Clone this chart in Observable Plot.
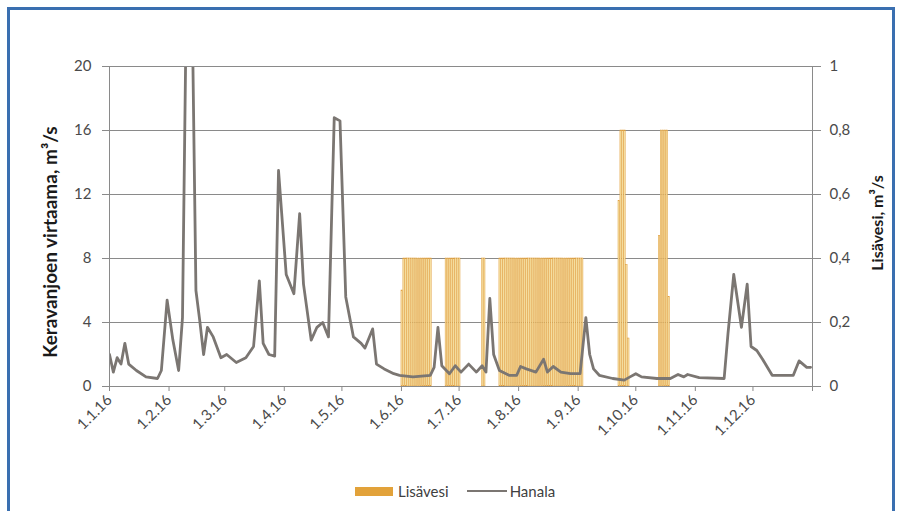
<!DOCTYPE html>
<html>
<head>
<meta charset="utf-8">
<script src="https://cdn.jsdelivr.net/npm/d3@7"></script>
<script src="https://cdn.jsdelivr.net/npm/@observablehq/plot@0.6"></script>
<style>
  body { margin: 0; background: #fff; width: 906px; height: 511px; overflow: hidden; position: relative; font-family: Lato, "Open Sans", sans-serif; }
  #border { position: absolute; left: 7px; top: 7px; width: 888px; height: 530px; border: 3px solid #3a6fb0; box-sizing: border-box; }
  #chart { position: absolute; left: 0; top: 0; }
  .ytitle { position: absolute; font-weight: bold; color: #1a1a1a; white-space: nowrap; transform: translate(-50%, -50%) rotate(-90deg); }
  #legend { position: absolute; top: 482px; left: 355px; font-size: 15px; color: #404040; display: flex; align-items: center; }
  .sw-bar { display: inline-block; width: 38px; height: 9px; background: #e2a23a; margin-right: 5px; }
  .sw-line { display: inline-block; width: 40px; height: 2.5px; background: #7b7672; margin: 0 3px 0 18px; }
</style>
</head>
<body>
<div id="border"></div>
<div id="chart"></div>
<div class="ytitle" style="left:49px; top:242px; font-size:19px;">Keravanjoen virtaama, m³/s</div>
<div class="ytitle" style="left:876px; top:223px; font-size:16px;">Lisävesi, m³/s</div>
<div id="legend"><span class="sw-bar"></span>Lisävesi<span class="sw-line"></span>Hanala</div>
<script>
// Hanala flow (left axis, m3/s)
const hanalaDates = [
  "2016-01-01","2016-01-03","2016-01-05","2016-01-07","2016-01-09","2016-01-11","2016-01-15","2016-01-20","2016-01-26","2016-01-28",
  "2016-01-31","2016-02-03","2016-02-06","2016-02-08","2016-02-10","2016-02-13","2016-02-15","2016-02-17","2016-02-19","2016-02-21",
  "2016-02-24","2016-02-28","2016-03-02","2016-03-07","2016-03-12","2016-03-16","2016-03-19","2016-03-21","2016-03-24","2016-03-27",
  "2016-03-29","2016-04-02","2016-04-06","2016-04-09","2016-04-11","2016-04-15","2016-04-18","2016-04-21","2016-04-24","2016-04-27",
  "2016-04-30","2016-05-03","2016-05-07","2016-05-11","2016-05-13","2016-05-17","2016-05-19","2016-05-23","2016-05-28","2016-05-31",
  "2016-06-07","2016-06-16","2016-06-18","2016-06-20","2016-06-22","2016-06-26","2016-06-29","2016-07-02","2016-07-06","2016-07-10",
  "2016-07-13","2016-07-15","2016-07-17","2016-07-19","2016-07-22","2016-07-27","2016-07-31","2016-08-02","2016-08-05","2016-08-10",
  "2016-08-14","2016-08-16","2016-08-19","2016-08-23","2016-08-28","2016-09-02","2016-09-05","2016-09-07","2016-09-09","2016-09-12",
  "2016-09-19","2016-09-25","2016-09-28","2016-10-01","2016-10-04","2016-10-12","2016-10-19","2016-10-23","2016-10-26","2016-10-28",
  "2016-11-03","2016-11-16","2016-11-18","2016-11-21","2016-11-25","2016-11-28","2016-11-30","2016-12-03","2016-12-06","2016-12-11",
  "2016-12-22","2016-12-25","2016-12-29","2016-12-31"
];
const hanalaValues = [
  2.0, 0.9, 1.8, 1.4, 2.7, 1.4, 1.0, 0.6, 0.5, 1.0,
  5.4, 2.9, 1.0, 4.3, 24, 24, 6.0, 4.1, 2.0, 3.7,
  3.1, 1.8, 2.0, 1.5, 1.8, 2.5, 6.6, 2.7, 2.0, 1.9,
  13.5, 7.0, 5.8, 10.8, 6.4, 2.9, 3.7, 4.0, 3.1, 16.8,
  16.6, 5.6, 3.1, 2.7, 2.4, 3.6, 1.4, 1.1, 0.8, 0.7,
  0.6, 0.7, 1.2, 3.7, 1.3, 0.8, 1.3, 0.9, 1.4, 0.9,
  1.3, 0.9, 5.5, 2.0, 1.0, 0.7, 0.7, 1.25, 1.1, 0.9,
  1.7, 0.9, 1.25, 0.9, 0.8, 0.8, 4.3, 2.0, 1.1, 0.7,
  0.5, 0.4, 0.6, 0.8, 0.6, 0.5, 0.5, 0.75, 0.6, 0.75,
  0.55, 0.5, 3.3, 7.0, 3.7, 6.4, 2.5, 2.25, 1.7, 0.7,
  0.7, 1.6, 1.2, 1.2
];

// Lisävesi (right axis, m3/s): periods with a constant daily value
const lisaRangeStart = ["2016-06-02", "2016-06-24", "2016-07-13", "2016-07-22"];
const lisaRangeEnd   = ["2016-06-16", "2016-07-01", "2016-07-14", "2016-09-03"];
const lisaRangeValue = [0.4, 0.4, 0.4, 0.4];
// single days
const lisaDays = ["2016-06-01","2016-09-22","2016-09-23","2016-09-24","2016-09-25","2016-09-26","2016-09-27",
                  "2016-10-13","2016-10-14","2016-10-15","2016-10-16","2016-10-17","2016-10-18"];
const lisaDayValues = [0.3, 0.58, 0.8, 0.8, 0.8, 0.38, 0.15,
                       0.47, 0.8, 0.8, 0.8, 0.8, 0.28];

const monthTicks = ["2016-01-01","2016-02-01","2016-03-01","2016-04-01","2016-05-01","2016-06-01",
                    "2016-07-01","2016-08-01","2016-09-01","2016-10-01","2016-11-01","2016-12-01"];
const monthLabels = ["1.1.16","1.2.16","1.3.16","1.4.16","1.5.16","1.6.16","1.7.16","1.8.16","1.9.16","1.10.16","1.11.16","1.12.16"];
const leftTicks = [0, 4, 8, 12, 16, 20];
const rightTicks = [0, 0.2, 0.4, 0.6, 0.8, 1];
const rightLabels = ["0", "0,2", "0,4", "0,6", "0,8", "1"];

const parse = d3.utcParse("%Y-%m-%d");
const hanala = hanalaDates.map((d, i) => ({date: parse(d), value: hanalaValues[i]}));
const lisa = [];
lisaRangeStart.forEach((s, i) => {
  d3.utcDay.range(parse(s), d3.utcDay.offset(parse(lisaRangeEnd[i]), 1)).forEach(d => lisa.push({date: d, value: lisaRangeValue[i]}));
});
lisaDays.forEach((d, i) => lisa.push({date: parse(d), value: lisaDayValues[i]}));

const RATIO = 20; // right axis 1 == left axis 20
const tickDates = monthTicks.map(parse);
const labelOf = new Map(tickDates.map((d, i) => [+d, monthLabels[i]]));

const chart = Plot.plot({
  width: 906,
  height: 440,
  marginLeft: 109,
  marginRight: 94,
  marginTop: 66,
  marginBottom: 54,
  style: {fontFamily: "Lato, 'Open Sans', sans-serif", fontSize: "15px", color: "#4a4a4a", background: "transparent"},
  x: {type: "utc", domain: [parse("2016-01-01"), parse("2017-01-01")]},
  y: {domain: [0, 20]},
  marks: [
    Plot.gridY(leftTicks, {stroke: "#8a8a8a", strokeOpacity: 1}),
    Plot.rectY(lisa, {
      x1: "date", x2: d => d3.utcDay.offset(d.date, 1),
      y1: 0, y2: d => d.value * RATIO,
      insetRight: 0.5,
      fill: "#f6e4aa", stroke: "#e09a35", strokeWidth: 0.5
    }),
    Plot.line(hanala, {x: "date", y: "value", stroke: "#7b7672", strokeWidth: 2.8, clip: true}),
    Plot.frame({stroke: "#8a8a8a"}),
    Plot.axisY({ticks: leftTicks, tickSize: 7, tickPadding: 11, stroke: "#8a8a8a", label: null}),
    Plot.axisY({anchor: "right", ticks: rightTicks.map(v => v * RATIO), tickFormat: v => rightLabels[rightTicks.indexOf(v / RATIO)] ?? "",
                tickSize: 8, tickPadding: 9, stroke: "#8a8a8a", label: null}),
    Plot.axisX({ticks: tickDates, tickFormat: d => labelOf.get(+d), tickRotate: -45, tickSize: 5, tickPadding: 6, stroke: "#8a8a8a", label: null}),
    Plot.axisX({ticks: [parse("2017-01-01")], tickFormat: () => "", tickSize: 5, stroke: "#8a8a8a", label: null})
  ]
});
document.getElementById("chart").appendChild(chart);
</script>
</body>
</html>
